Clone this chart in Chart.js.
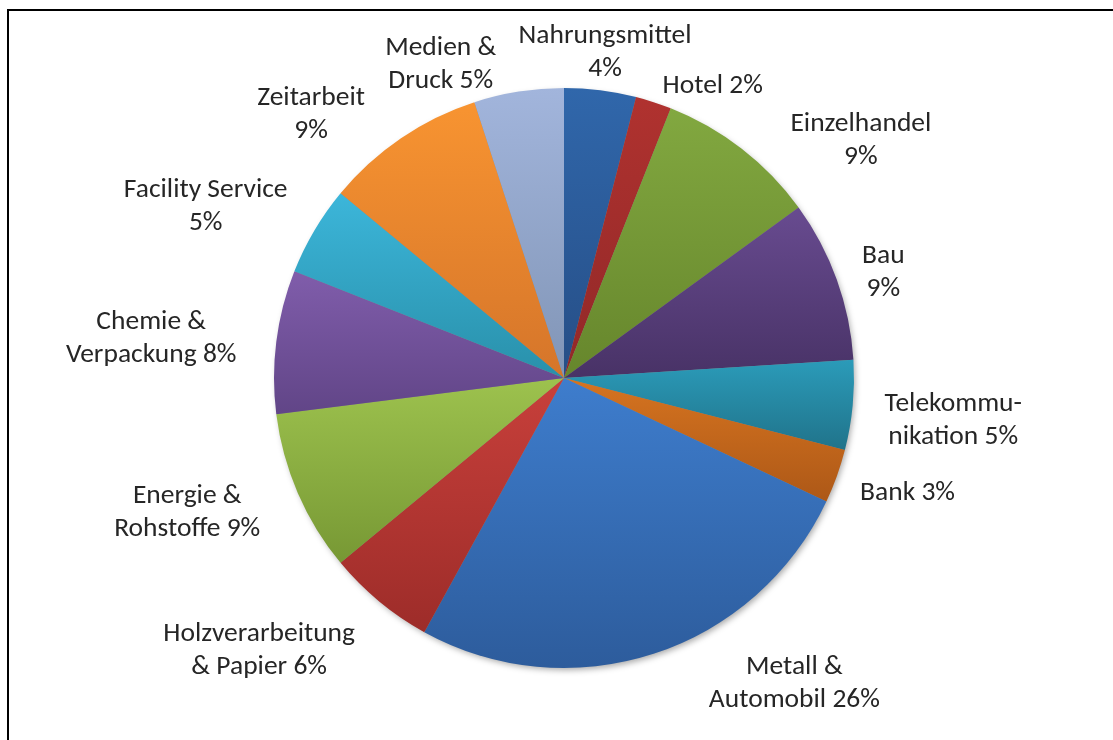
<!DOCTYPE html>
<html>
<head>
<meta charset="utf-8">
<script src="https://cdn.jsdelivr.net/npm/chart.js@4"></script>
<style>
  html, body { margin: 0; padding: 0; background: #fff; overflow: hidden; }
  #wrap { position: relative; width: 1113px; height: 740px; }
  #frame { position: absolute; left: 7px; top: 9px; width: 1140px; height: 760px;
           border: 2px solid #000; pointer-events: none; }
</style>
</head>
<body>
<div id="wrap">
  <canvas id="pie" width="1113" height="740"></canvas>
  <div id="frame"></div>
</div>
<script>
// Branchenverteilung in Prozent
const categories = ["Nahrungsmittel", "Hotel", "Einzelhandel", "Bau", "Telekommunikation", "Bank",
  "Metall & Automobil", "Holzverarbeitung & Papier", "Energie & Rohstoffe", "Chemie & Verpackung",
  "Facility Service", "Zeitarbeit", "Medien & Druck"];
const shares = [4, 2, 9, 9, 5, 3, 26, 6, 9, 8, 5, 9, 5];

// how each label is broken into lines (value is appended to the last line)
const labelLines = [["Nahrungsmittel", ""], ["Hotel"], ["Einzelhandel", ""], ["Bau", ""],
  ["Telekommu-", "nikation"], ["Bank"], ["Metall &", "Automobil"], ["Holzverarbeitung", "& Papier"],
  ["Energie &", "Rohstoffe"], ["Chemie &", "Verpackung"], ["Facility Service", ""], ["Zeitarbeit", ""],
  ["Medien &", "Druck"]];

// light (top) and dark (bottom) tone for each slice
const topColors = ["#3067ab", "#b0322f", "#82a840", "#684b90", "#2b9bb9", "#d67420", "#3e7dcd",
  "#c8403b", "#9dc24e", "#805dab", "#3cb6da", "#f89431", "#a2b5dc"];
const bottomColors = ["#264e86", "#912828", "#66862c", "#483266", "#20738a", "#ad5817", "#2d5c9c",
  "#9d2c29", "#779834", "#614587", "#2990aa", "#d5752a", "#8195b6"];

// label placement: angle shift from slice middle (deg) and distance in radii
const labelShift = [0, 9, 13.6, 1.5, 0.8, -1.2, -19, 8.6, 3.7, -1.7, -5, -9.6, -12.5];
const labelDist = [1.13, 1.13, 1.31, 1.16, 1.35, 1.25, 1.32, 1.41, 1.38, 1.43, 1.37, 1.26, 1.16];

const FONT = '27.5px Carlito, Lato, "Open Sans", sans-serif';

function sliceFill(c) {
  const i = c.dataIndex;
  const chart = c.chart, area = chart.chartArea;
  if (!area || c.type !== 'data') return topColors[i];
  const cx = (area.left + area.right) / 2, cy = (area.top + area.bottom) / 2;
  const r = Math.min(area.right - area.left, area.bottom - area.top) / 2;
  const total = shares.reduce((a, b) => a + b, 0);
  const before = shares.slice(0, i).reduce((a, b) => a + b, 0);
  const a0 = -Math.PI / 2 + before / total * 2 * Math.PI;
  const a1 = a0 + shares[i] / total * 2 * Math.PI;
  const ys = [cy, cy + r * Math.sin(a0), cy + r * Math.sin(a1)];
  [-Math.PI / 2, Math.PI / 2, 3 * Math.PI / 2].forEach(e => {
    if (e >= a0 && e <= a1) ys.push(cy + r * Math.sin(e));
  });
  const g = chart.ctx.createLinearGradient(0, Math.min(...ys), 0, Math.max(...ys));
  g.addColorStop(0, topColors[i]);
  g.addColorStop(1, bottomColors[i]);
  return g;
}

// soft drop shadow behind the pie
const pieShadow = {
  id: 'pieShadow',
  beforeDatasetsDraw(chart) {
    const arc = chart.getDatasetMeta(0).data[0];
    if (!arc) return;
    const ctx = chart.ctx;
    ctx.save();
    ctx.shadowColor = 'rgba(0,0,0,0.35)';
    ctx.shadowBlur = 6;
    ctx.shadowOffsetX = 2;
    ctx.shadowOffsetY = 3;
    ctx.fillStyle = '#888';
    ctx.beginPath();
    ctx.arc(arc.x, arc.y, arc.outerRadius - 1, 0, Math.PI * 2);
    ctx.fill();
    ctx.restore();
  }
};

// category + percentage labels outside the slices
const outsideLabels = {
  id: 'outsideLabels',
  afterDatasetsDraw(chart) {
    const ctx = chart.ctx;
    const arcs = chart.getDatasetMeta(0).data;
    ctx.save();
    ctx.font = FONT;
    ctx.fillStyle = '#262626';
    ctx.textAlign = 'center';
    ctx.textBaseline = 'middle';
    arcs.forEach((arc, i) => {
      const mid = (arc.startAngle + arc.endAngle) / 2 + labelShift[i] * Math.PI / 180;
      const d = arc.outerRadius * labelDist[i];
      const x = arc.x + d * Math.cos(mid);
      const y = arc.y + d * Math.sin(mid);
      const lines = labelLines[i].slice();
      lines[lines.length - 1] = (lines[lines.length - 1] + ' ' + shares[i] + '%').trim();
      const lh = 33;
      const y0 = y - (lines.length - 1) * lh / 2;
      lines.forEach((t, k) => ctx.fillText(t, x, y0 + k * lh));
    });
    ctx.restore();
  }
};

new Chart(document.getElementById('pie'), {
  type: 'pie',
  data: {
    labels: categories,
    datasets: [{
      data: shares,
      backgroundColor: sliceFill,
      borderWidth: 0
    }]
  },
  options: {
    responsive: false,
    animation: false,
    layout: { padding: { left: 274, right: 259, top: 88, bottom: 72 } },
    plugins: {
      legend: { display: false },
      tooltip: { enabled: false }
    }
  },
  plugins: [pieShadow, outsideLabels]
});
</script>
</body>
</html>
